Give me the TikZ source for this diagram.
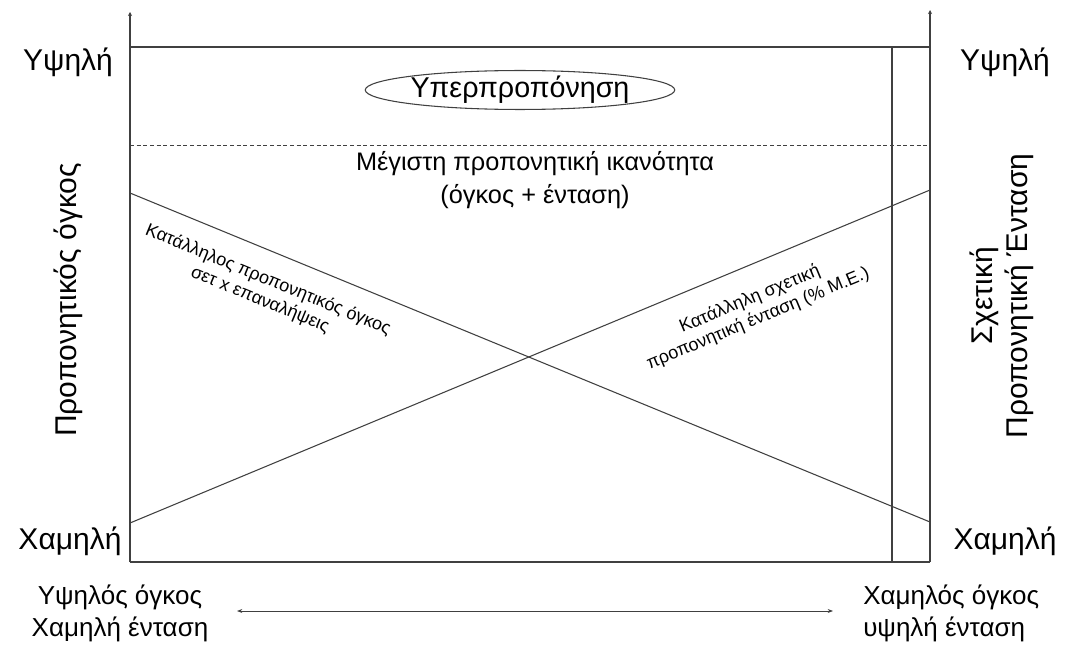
\documentclass[tikz,border=0pt]{standalone}
\usepackage{fontspec}
\setmainfont{Liberation Sans}
\usetikzlibrary{arrows.meta, shapes.geometric}

\begin{document}
\begin{tikzpicture}[x=0.75pt,y=0.75pt,yscale=-1,xscale=1]
    \useasboundingbox (0,0) rectangle (1067,649);
    \tikzset{
      axisline/.style={draw=black!75, line width=0.8pt},
      bigtxt/.style={inner sep=0.75pt, font=\fontsize{22.5}{26}\selectfont},
      bottxt/.style={inner sep=0.75pt, font=\fontsize{19.5}{24}\selectfont},
      midtxt/.style={inner sep=0.75pt, font=\fontsize{19}{25}\selectfont, align=center},
      smalltxt/.style={inner sep=0.75pt, font=\fontsize{13.5}{16}\selectfont, align=center}
    }

    % Frame corners
    \coordinate (tl) at (130,47);
    \coordinate (tr) at (930,47);
    \coordinate (bl) at (130,562);
    \coordinate (br) at (930,562);
    \coordinate (ltop) at (130,12);
    \coordinate (rtop) at (930,10);
    \coordinate (itop) at (892,47);
    \coordinate (ibot) at (892,562);

    % Axes and frame
    \draw [axisline, -{Stealth[length=3pt,width=3pt]}] (bl) -- (ltop);
    \draw [axisline, -{Stealth[length=3pt,width=3pt]}] (br) -- (rtop);
    \draw [axisline] (tl) -- (tr);
    \draw [axisline] (bl) -- (br);
    \draw [axisline] (itop) -- (ibot);
    % Dashed line
    \draw [black!75, line width=0.6pt, dash pattern=on 3pt off 2pt] (130,145) coordinate (dl) -- (930,145) coordinate (dr);

    % Diagonals
    \coordinate (d1s) at (130,193);
    \coordinate (d1e) at (930,522);
    \coordinate (d2s) at (130,523);
    \coordinate (d2e) at (930,190);
    \draw [axisline] (d1s) -- (d1e);
    \draw [axisline] (d2s) -- (d2e);

    % Ellipse
    \node [ellipse, draw=black!75, line width=0.8pt, minimum width=198pt, minimum height=27pt, inner sep=0pt,
           font=\fontsize{21.5}{24}\selectfont] (over) at (520,90) {Υπερπροπόνηση};

    % Text Node
    \node [midtxt] (maxcap) at (535,180) {Μέγιστη προπονητική ικανότητα\\(όγκος + ένταση)};

    % Left side labels
    \node [bigtxt] (lhigh) at (68,62) {Υψηλή};
    \node [bigtxt] (llow) at (70,541) {Χαμηλή};
    \node [bigtxt, rotate=90] (lvol) at (68,300) {Προπονητικός όγκος};

    % Right side labels
    \node [bigtxt] (rhigh) at (1005,62) {Υψηλή};
    \node [bigtxt] (rlow) at (1005,541) {Χαμηλή};
    \node [bigtxt, rotate=90, align=center] (rint) at (1002,296) {Σχετική\\Προπονητική Ένταση};

    % Diagonal labels
    \node [smalltxt, rotate=-22.4] (volbox) at (264,290) {Κατάλληλος προπονητικός όγκος\\σετ x επαναλήψεις};
    \node [smalltxt, rotate=22.6] (intbox) at (754,309) {Κατάλληλη σχετική\\προπονητική ένταση (\% Μ.Ε.)};

    % Bottom labels
    \node [bottxt, align=center] (bleft) at (120,613) {Υψηλός όγκος\\Χαμηλή ένταση};
    \node [bottxt, align=left, anchor=west] (bright) at (862,613) {Χαμηλός όγκος\\υψηλή ένταση};
    \coordinate (aleft) at (237,611);
    \coordinate (aright) at (833,611);
    \draw [black!75, line width=0.6pt, {Stealth[length=4pt,width=3pt]}-{Stealth[length=4pt,width=3pt]}] (aleft) -- (aright);

\end{tikzpicture}
\end{document}
